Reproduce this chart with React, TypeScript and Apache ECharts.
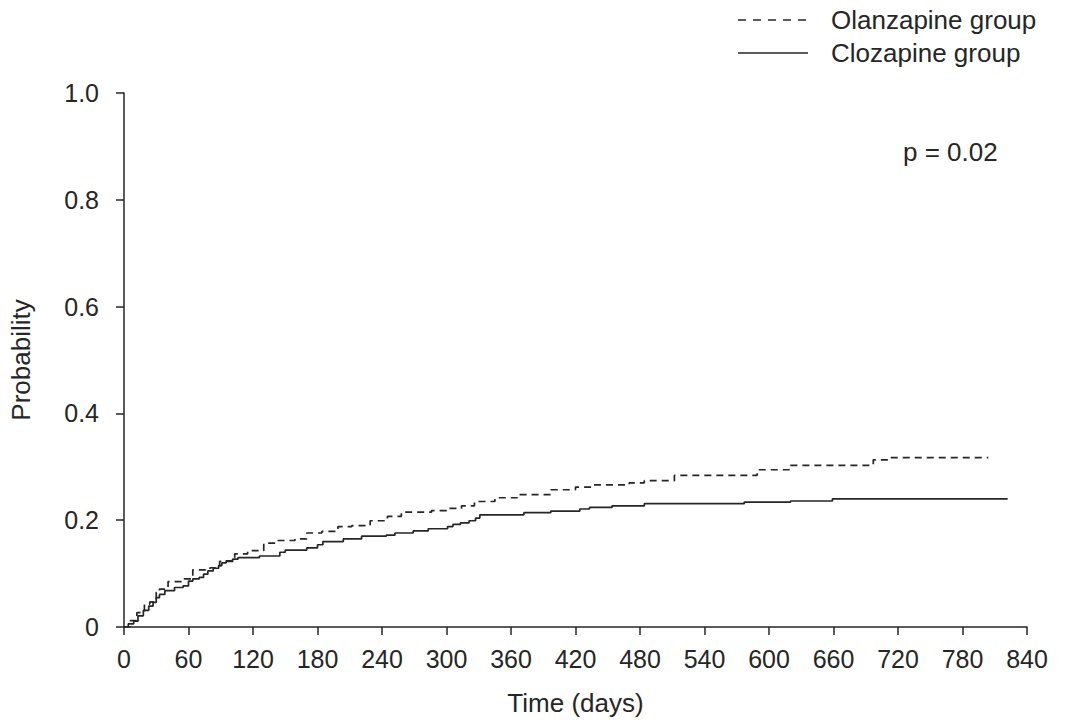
import React, { useEffect, useRef } from "react";
import * as echarts from "echarts";

const xTicks = [0, 60, 120, 180, 240, 300, 360, 420, 480, 540, 600, 660, 720, 780, 840];
const yTicks = [0, 0.2, 0.4, 0.6, 0.8, 1.0];

const clozapineDays = [0, 4, 9, 13, 18, 23, 27, 30, 33, 38, 47, 55, 60, 64, 70, 74, 78, 83, 88, 91, 95, 101, 106, 126, 145, 150, 170, 180, 185, 204, 221, 244, 252, 269, 283, 301, 306, 313, 321, 327, 331, 372, 397, 424, 433, 454, 484, 577, 620, 659, 822];
const clozapineProb = [0, 0.006, 0.011, 0.021, 0.031, 0.039, 0.046, 0.055, 0.061, 0.068, 0.074, 0.077, 0.086, 0.09, 0.093, 0.099, 0.105, 0.11, 0.115, 0.12, 0.124, 0.127, 0.13, 0.133, 0.14, 0.144, 0.148, 0.154, 0.16, 0.165, 0.17, 0.172, 0.176, 0.18, 0.184, 0.188, 0.192, 0.195, 0.199, 0.204, 0.21, 0.214, 0.217, 0.221, 0.224, 0.227, 0.231, 0.234, 0.236, 0.24, 0.24];

const olanzapineDays = [0, 6, 12, 19, 24, 30, 33, 41, 56, 64, 80, 89, 103, 115, 130, 142, 159, 170, 184, 199, 212, 229, 245, 258, 286, 300, 314, 326, 345, 366, 397, 420, 437, 470, 484, 512, 589, 620, 697, 713, 804];
const olanzapineProb = [0, 0.012, 0.027, 0.043, 0.047, 0.065, 0.071, 0.085, 0.09, 0.107, 0.111, 0.123, 0.137, 0.143, 0.157, 0.162, 0.165, 0.176, 0.179, 0.188, 0.19, 0.199, 0.207, 0.215, 0.218, 0.222, 0.227, 0.235, 0.242, 0.248, 0.257, 0.262, 0.266, 0.27, 0.274, 0.284, 0.2945, 0.3026, 0.313, 0.317, 0.317];

const seriesNames = ["Olanzapine group", "Clozapine group"];
const pValueText = "p = 0.02";
const xAxisTitle = "Time (days)";
const yAxisTitle = "Probability";

const FONT = "'Liberation Sans', Arial, sans-serif";
const INK = "#262626";
const DASH = [7, 5];

export default function App() {
  const ref = useRef<HTMLDivElement>(null);
  useEffect(() => {
    if (!ref.current) return;
    const chart = echarts.init(ref.current, null, { renderer: "svg" });
    const zip = (a: number[], b: number[]) => a.map((v, i) => [v, b[i]]);
    const legendRows = seriesNames.map((name, i) => {
      const y = 20 + i * 33;
      return {
        type: "group",
        children: [
          {
            type: "line",
            shape: { x1: 738, y1: y, x2: 808, y2: y },
            style: { stroke: INK, lineWidth: 1.6, lineDash: i === 0 ? [8, 7] : null },
          },
          {
            type: "text",
            x: 831,
            y,
            style: { text: name, fontSize: 26, fill: INK, fontFamily: FONT, verticalAlign: "middle", align: "left" },
          },
        ],
      };
    });
    chart.setOption({
      animation: false,
      backgroundColor: "#ffffff",
      textStyle: { fontFamily: FONT },
      grid: { left: 122, right: 44, top: 93, bottom: 97 },
      xAxis: {
        type: "value",
        min: 0,
        max: 840,
        interval: 60,
        name: xAxisTitle,
        nameLocation: "middle",
        nameGap: 63,
        nameTextStyle: { fontSize: 26, color: INK, fontFamily: FONT },
        axisLine: { show: true, lineStyle: { color: INK, width: 1.5 } },
        axisTick: { show: true, inside: false, length: 8, lineStyle: { color: INK, width: 1.5 } },
        axisLabel: { fontSize: 25, color: INK, margin: 19, fontFamily: FONT },
        splitLine: { show: false },
      },
      yAxis: {
        type: "value",
        min: 0,
        max: 1,
        interval: 0.2,
        name: yAxisTitle,
        nameLocation: "middle",
        nameGap: 90,
        nameRotate: 90,
        nameTextStyle: { fontSize: 26, color: INK, fontFamily: FONT },
        axisLine: { show: true, lineStyle: { color: INK, width: 1.5 } },
        axisTick: { show: true, inside: false, length: 8, lineStyle: { color: INK, width: 1.5 } },
        axisLabel: {
          fontSize: 25,
          color: INK,
          margin: 25,
          fontFamily: FONT,
          formatter: (v: number) => (v === 0 ? "0" : v.toFixed(1)),
        },
        splitLine: { show: false },
      },
      series: [
        {
          name: seriesNames[0],
          type: "line",
          step: "end",
          symbol: "none",
          data: zip(olanzapineDays, olanzapineProb),
          lineStyle: { color: INK, width: 1.7, type: DASH },
          itemStyle: { color: INK },
        },
        {
          name: seriesNames[1],
          type: "line",
          step: "end",
          symbol: "none",
          data: zip(clozapineDays, clozapineProb),
          lineStyle: { color: INK, width: 1.7, type: "solid" },
          itemStyle: { color: INK },
        },
      ],
      graphic: [
        ...legendRows,
        {
          type: "text",
          x: 903,
          y: 152,
          style: { text: pValueText, fontSize: 26, fill: INK, fontFamily: FONT, verticalAlign: "middle" },
        },
      ],
    });
    return () => chart.dispose();
  }, []);
  return (
    <div
      ref={ref}
      style={{ position: "fixed", left: 0, top: 0, width: 1071, height: 724, background: "#fff" }}
    />
  );
}
